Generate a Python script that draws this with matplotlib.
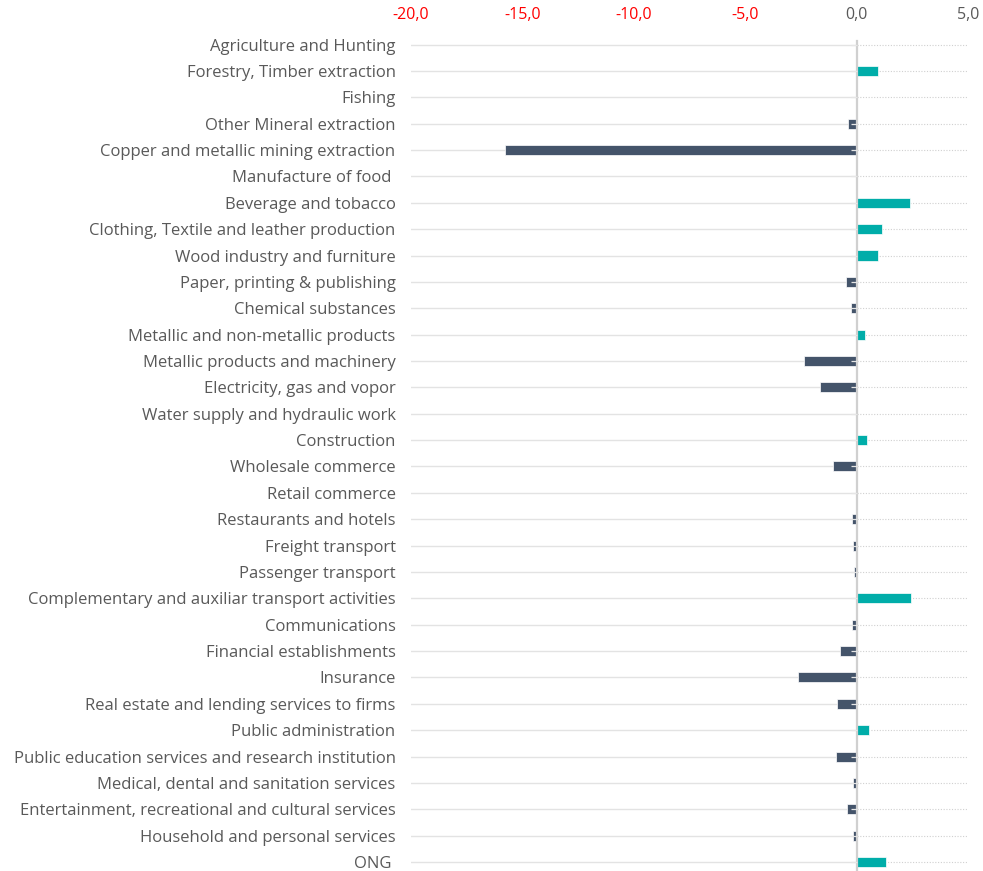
import matplotlib.pyplot as plt
from matplotlib.ticker import FuncFormatter

sectors = [
    'Agriculture and Hunting', 'Forestry, Timber extraction', 'Fishing',
    'Other Mineral extraction', 'Copper and metallic mining extraction',
    'Manufacture of food ', 'Beverage and tobacco',
    'Clothing, Textile and leather production', 'Wood industry and furniture',
    'Paper, printing & publishing', 'Chemical substances',
    'Metallic and non-metallic products', 'Metallic products and machinery',
    'Electricity, gas and vopor', 'Water supply and hydraulic work',
    'Construction', 'Wholesale commerce', 'Retail commerce',
    'Restaurants and hotels', 'Freight transport', 'Passenger transport',
    'Complementary and auxiliar transport activities', 'Communications',
    'Financial establishments', 'Insurance',
    'Real estate and lending services to firms', 'Public administration',
    'Public education services and research institution',
    'Medical, dental and sanitation services',
    'Entertainment, recreational and cultural services',
    'Household and personal services', 'ONG ',
]
values = [
    0.0, 0.95, -0.05, -0.4, -15.8, 0.0, 2.4, 1.15, 0.95, -0.5, -0.25,
    0.35, -2.35, -1.65, 0.0, 0.45, -1.05, 0.0, -0.2, -0.15, -0.12, 2.45,
    -0.2, -0.75, -2.65, -0.9, 0.55, -0.95, -0.15, -0.45, -0.15, 1.3,
]
x_ticks = [-20, -15, -10, -5, 0, 5]

neg_color = '#44546A'
pos_color = '#00ADA9'
grey_text = '#595959'

plt.rcParams['font.family'] = ['Open Sans', 'DejaVu Sans']

fig = plt.figure(figsize=(9.83, 8.71), dpi=100)
ax = fig.add_axes([0.418, 0.0, 0.567, 0.964])

y = list(range(len(sectors)))
colors = [pos_color if v > 0 else neg_color for v in values]

# gridlines: solid on the negative side, dotted on the positive side
for yi in y:
    ax.plot([-20, 0], [yi, yi], color='#E3E3E3', lw=1.0, zorder=0)
    ax.plot([0, 5], [yi, yi], color='#D0D0D0', lw=0.8, ls=(0, (1, 1.5)), zorder=0)

ax.barh(y, values, height=0.38, color=colors, edgecolor='white', linewidth=0.5, zorder=2)

# vertical axis at zero with small ticks on the left
ax.plot([0, 0], [-0.15, len(sectors) - 1 + 0.34], color='#D0D0D0', lw=1.6, zorder=3)
for yi in y:
    ax.plot([-0.28, 0], [yi, yi], color='#E6E6E6', lw=0.9, zorder=4, solid_capstyle='butt')

ax.set_xlim(-20, 5)
ax.set_ylim(len(sectors) - 1 + 0.34, -0.5)
ax.xaxis.tick_top()
ax.set_xticks(x_ticks)
ax.xaxis.set_major_formatter(FuncFormatter(lambda v, p: f'{v:.1f}'.replace('.', ',')))
ax.tick_params(axis='x', length=0, labelsize=11.5, pad=6)
for lbl, t in zip(ax.get_xticklabels(), x_ticks):
    lbl.set_color('#FF0000' if t < 0 else grey_text)

ax.set_yticks(y)
ax.set_yticklabels(sectors, color=grey_text, fontsize=12)
ax.tick_params(axis='y', length=0, pad=11)

for s in ax.spines.values():
    s.set_visible(False)

fig.savefig('out.png', dpi=100)
